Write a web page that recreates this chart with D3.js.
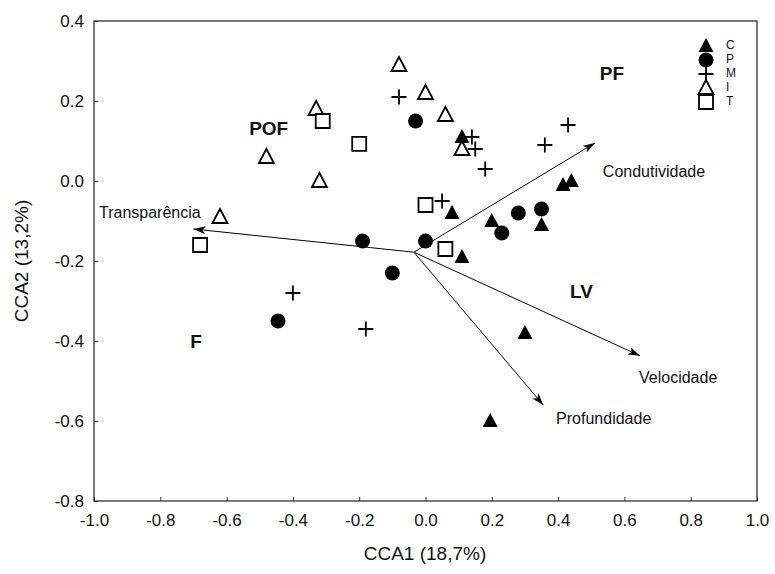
<!DOCTYPE html>
<html>
<head>
<meta charset="utf-8">
<script src="https://cdn.jsdelivr.net/npm/d3@7"></script>
<style>
  body { margin: 0; background: white; }
  text { font-family: "Liberation Sans", Arial, sans-serif; }
</style>
</head>
<body>
<div id="container"></div>
<script>
let w = 775;
let h = 574;

// sample scores per group [CCA1, CCA2]
let groupC = [[0.11,0.11],[0.08,-0.08],[0.20,-0.10],[0.35,-0.11],[0.11,-0.19],[0.415,-0.01],[0.44,0.0],[0.30,-0.38],[0.195,-0.60]];
let groupP = [[-0.03,0.15],[0.0,-0.15],[0.28,-0.08],[0.35,-0.07],[0.23,-0.13],[-0.10,-0.23],[-0.19,-0.15],[-0.445,-0.35]];
let groupM = [[-0.08,0.21],[0.14,0.11],[0.15,0.08],[0.18,0.03],[0.43,0.14],[0.36,0.09],[0.05,-0.05],[-0.40,-0.28],[-0.18,-0.37]];
let groupI = [[-0.08,0.29],[0.0,0.22],[0.06,0.165],[-0.33,0.18],[-0.48,0.06],[-0.32,0.0],[0.11,0.08],[-0.62,-0.09]];
let groupT = [[-0.31,0.15],[-0.20,0.093],[0.0,-0.06],[0.06,-0.17],[-0.68,-0.16]];

let groupNames = ["C","P","M","I","T"];

// environmental vectors
let vecOrigin = [-0.035,-0.178];
let vecNames = ["Condutividade","Transparência","Velocidade","Profundidade"];
let vecEnds = [[0.511,0.095],[-0.70,-0.12],[0.647,-0.437],[0.355,-0.56]];
let vecLabelPos = [[0.535,0.02],[-0.985,-0.0825],[0.644,-0.495],[0.394,-0.5975]];

// site group labels
let zoneNames = ["PF","POF","LV","F"];
let zonePos = [[0.526,0.265],[-0.532,0.1275],[0.436,-0.28],[-0.71,-0.405]];

let xTicks = [-1.0,-0.8,-0.6,-0.4,-0.2,0.0,0.2,0.4,0.6,0.8,1.0];
let yTicks = [0.4,0.2,0.0,-0.2,-0.4,-0.6,-0.8];

let viz = d3.select("#container")
  .append("svg")
    .attr("width", w)
    .attr("height", h)
    .style("background-color", "white")
;

let xScale = d3.scaleLinear().domain([-1,1]).range([94,757]);
let yScale = d3.scaleLinear().domain([-0.8,0.4]).range([501,21]);

let xAxis = d3.axisBottom(xScale).tickValues(xTicks).tickSize(-4).tickPadding(10);
let yAxis = d3.axisLeft(yScale).tickValues(yTicks).tickSize(-4).tickPadding(10);

let xg = viz.append("g").attr("transform", "translate(0,501)").call(xAxis);
let yg = viz.append("g").attr("transform", "translate(94,0)").call(yAxis);
[xg, yg].forEach(function(g){
  g.select(".domain").remove();
  g.selectAll("text").style("font-size", "17px").attr("fill", "#111").text(function(d){
    return d3.format(".1f")(d).replace("−","-");
  });
  g.selectAll("line").attr("stroke", "#333");
});
xg.selectAll("text").attr("dy", "0.9em");

viz.append("rect")
  .attr("x", 94).attr("y", 21)
  .attr("width", 757-94).attr("height", 501-21)
  .attr("fill", "none").attr("stroke", "#333").attr("stroke-width", 1.3);

viz.append("text")
  .text("CCA1 (18,7%)")
  .attr("x", 425).attr("y", 560)
  .attr("text-anchor", "middle")
  .style("font-size", "19px").attr("fill", "#111");

viz.append("text")
  .text("CCA2 (13,2%)")
  .attr("transform", "translate(28,261) rotate(-90)")
  .attr("text-anchor", "middle")
  .style("font-size", "19px").attr("fill", "#111");

// arrow marker
viz.append("defs").append("marker")
  .attr("id", "arrow")
  .attr("viewBox", "0 0 12 8")
  .attr("refX", 12).attr("refY", 4)
  .attr("markerWidth", 12).attr("markerHeight", 8)
  .attr("markerUnits", "userSpaceOnUse")
  .attr("orient", "auto")
  .append("path")
    .attr("d", "M0,0 L12,4 L0,8 L3,4 Z")
    .attr("fill", "black");

viz.selectAll(".vec").data(vecEnds).enter()
  .append("line")
    .classed("vec", true)
    .attr("x1", xScale(vecOrigin[0]))
    .attr("y1", yScale(vecOrigin[1]))
    .attr("x2", function(d){ return xScale(d[0]); })
    .attr("y2", function(d){ return yScale(d[1]); })
    .attr("stroke", "black")
    .attr("stroke-width", 1)
    .attr("marker-end", "url(#arrow)");

viz.selectAll(".veclabel").data(vecNames).enter()
  .append("text")
    .classed("veclabel", true)
    .text(function(d){ return d; })
    .attr("x", function(d,i){ return xScale(vecLabelPos[i][0]); })
    .attr("y", function(d,i){ return yScale(vecLabelPos[i][1]); })
    .attr("dominant-baseline", "middle")
    .style("font-size", "16px")
    .attr("fill", "#111");

viz.selectAll(".zone").data(zoneNames).enter()
  .append("text")
    .classed("zone", true)
    .text(function(d){ return d; })
    .attr("x", function(d,i){ return xScale(zonePos[i][0]); })
    .attr("y", function(d,i){ return yScale(zonePos[i][1]); })
    .attr("dominant-baseline", "middle")
    .style("font-size", "19px")
    .style("font-weight", "bold")
    .attr("fill", "#111");

// marker shapes
function shapePath(type){
  if (type == "C" || type == "I") {
    return "M0,-8 L7.5,6 L-7.5,6 Z";
  } if (type == "T") {
    return "M-7,-7 L7,-7 L7,7 L-7,7 Z";
  } if (type == "M") {
    return "M-7.5,0 L7.5,0 M0,-7.5 L0,7.5";
  }
  return null;
}

function drawGroup(data, type){
  let g = viz.append("g").classed("group-" + type, true);
  if (type == "P") {
    g.selectAll("circle").data(data).enter()
      .append("circle")
        .attr("cx", function(d){ return xScale(d[0]); })
        .attr("cy", function(d){ return yScale(d[1]); })
        .attr("r", 7.5)
        .attr("fill", "black");
    return;
  }
  g.selectAll("path").data(data).enter()
    .append("path")
      .attr("d", shapePath(type))
      .attr("transform", function(d){ return "translate(" + xScale(d[0]) + "," + yScale(d[1]) + ")"; })
      .attr("fill", type == "C" ? "black" : (type == "M" ? "none" : "white"))
      .attr("stroke", "black")
      .attr("stroke-width", type == "C" ? 0 : 1.8);
}

drawGroup(groupI, "I");
drawGroup(groupT, "T");
drawGroup(groupM, "M");
drawGroup(groupP, "P");
drawGroup(groupC, "C");

// legend
let legend = viz.append("g").attr("transform", "translate(706,46)");
groupNames.forEach(function(name, i){
  let row = legend.append("g").attr("transform", "translate(0," + (i*14) + ")");
  if (name == "P") {
    row.append("circle").attr("r", 7.5).attr("fill", "black");
  } else {
    row.append("path")
      .attr("d", shapePath(name))
      .attr("fill", name == "C" ? "black" : (name == "M" ? "none" : "white"))
      .attr("stroke", "black")
      .attr("stroke-width", name == "C" ? 0 : 1.8);
  }
  row.append("text")
    .text(name)
    .attr("x", 20)
    .attr("dominant-baseline", "middle")
    .style("font-size", "12px")
    .attr("fill", "#111");
});
</script>
</body>
</html>
